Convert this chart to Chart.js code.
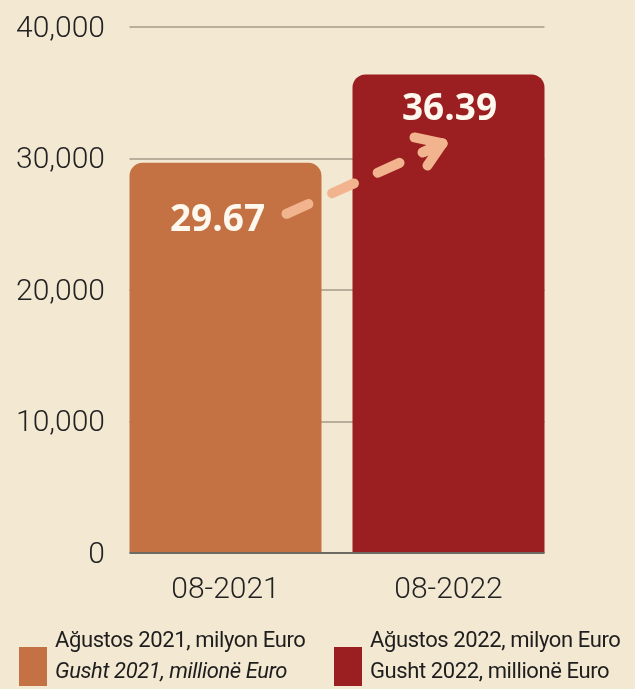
<!DOCTYPE html>
<html>
<head>
<meta charset="utf-8">
<script src="https://cdn.jsdelivr.net/npm/chart.js@4.4.1/dist/chart.umd.min.js"></script>
<style>
  html, body { margin: 0; padding: 0; background: #f3e8d2; }
  #wrap { position: relative; width: 635px; height: 689px; overflow: hidden; }
  canvas { position: absolute; left: 0; top: 0; }
  .leg { position: absolute; font-family: Roboto, sans-serif; font-size: 22px; line-height: 31px; color: #1e1e1e; white-space: nowrap; letter-spacing: -0.4px; }
  .sw { position: absolute; width: 28px; height: 39px; }
</style>
</head>
<body>
<div id="wrap">
  <canvas id="c" width="635" height="689"></canvas>
  <div class="sw" id="sw0" style="left:19px; top:647px;"></div>
  <div class="leg" id="lg0" style="left:55px; top:624px;"></div>
  <div class="sw" id="sw1" style="left:334px; top:647px;"></div>
  <div class="leg" id="lg1" style="left:370px; top:624px;"></div>
</div>
<script>
const categories = ['08-2021', '08-2022'];
const values = [29670, 36390];
const valueLabels = ['29.67', '36.39'];
const yTickValues = [0, 10000, 20000, 30000, 40000];
const barColors = ['#c47243', '#9b1f20'];
const legendLine1 = ['Ağustos 2021, milyon Euro', 'Ağustos 2022, milyon Euro'];
const legendLine2 = ['Gusht 2021, millionë Euro', 'Gusht 2022, millionë Euro'];
const legendItalic2 = [true, false];

// HTML legend
for (let i = 0; i < 2; i++) {
  document.getElementById('sw' + i).style.background = barColors[i];
  const lg = document.getElementById('lg' + i);
  const a = document.createElement('div'); a.textContent = legendLine1[i];
  const b = document.createElement('div'); b.textContent = legendLine2[i];
  if (legendItalic2[i]) b.style.fontStyle = 'italic';
  lg.appendChild(a); lg.appendChild(b);
}

const gridPlugin = {
  id: 'customGrid',
  beforeDatasetsDraw(chart) {
    const ctx = chart.ctx, y = chart.scales.y;
    const meta = chart.getDatasetMeta(0);
    const x0 = meta.data[0].x - meta.data[0].width / 2;
    const x1 = meta.data[1].x + meta.data[1].width / 2;
    ctx.save();
    ctx.strokeStyle = '#b8ae9c';
    ctx.lineWidth = 2;
    yTickValues.forEach(v => {
      if (v === 0) return;
      const py = Math.round(y.getPixelForValue(v));
      ctx.beginPath(); ctx.moveTo(x0, py); ctx.lineTo(x1, py); ctx.stroke();
    });
    ctx.restore();
  },
  afterDatasetsDraw(chart) {
    const ctx = chart.ctx, y = chart.scales.y;
    const meta = chart.getDatasetMeta(0);
    const b0 = meta.data[0], b1 = meta.data[1];
    const x0 = b0.x - b0.width / 2;
    const x1 = b1.x + b1.width / 2;
    ctx.save();
    // baseline
    ctx.strokeStyle = '#6e6a64';
    ctx.lineWidth = 2;
    const py = y.getPixelForValue(0);
    ctx.beginPath(); ctx.moveTo(x0, py); ctx.lineTo(x1, py); ctx.stroke();
    // value labels
    ctx.fillStyle = '#fff8ee';
    ctx.font = 'bold 37px "Open Sans", sans-serif';
    ctx.textAlign = 'center';
    ctx.textBaseline = 'middle';
    ctx.fillText(valueLabels[0], b0.x - 8, b0.y + 58);
    ctx.fillText(valueLabels[1], b1.x + 1, b1.y + 35);
    // dashed arrow
    const sx = b0.x + 61, sy = b0.y + 51;
    const tx = b1.x - 6, ty = b1.y + 69;
    ctx.strokeStyle = '#f2b48f';
    ctx.lineWidth = 10;
    ctx.lineCap = 'round';
    ctx.lineJoin = 'round';
    ctx.setLineDash([24, 26]);
    ctx.beginPath(); ctx.moveTo(sx, sy); ctx.lineTo(tx, ty); ctx.stroke();
    ctx.setLineDash([]);
    ctx.beginPath();
    ctx.moveTo(tx - 28, ty - 6); ctx.lineTo(tx, ty); ctx.lineTo(tx - 15, ty + 22);
    ctx.stroke();
    ctx.beginPath(); ctx.moveTo(tx - 20, ty + 9); ctx.lineTo(tx, ty); ctx.stroke();
    ctx.restore();
  }
};

new Chart(document.getElementById('c'), {
  type: 'bar',
  data: {
    labels: categories,
    datasets: [{
      data: values,
      backgroundColor: barColors,
      borderRadius: { topLeft: 13, topRight: 13, bottomLeft: 0, bottomRight: 0 },
      borderSkipped: 'bottom',
      categoryPercentage: 1,
      barPercentage: 0.861
    }]
  },
  options: {
    responsive: false,
    animation: false,
    layout: { padding: { top: 25, right: 75, left: 0, bottom: 0 } },
    plugins: { legend: { display: false }, tooltip: { enabled: false } },
    scales: {
      x: {
        grid: { display: false, drawTicks: false },
        border: { display: false },
        ticks: { color: '#222', padding: 19, font: { family: 'Roboto', size: 30, weight: '300' } },
        afterFit(s) { s.height = 136; }
      },
      y: {
        min: 0, max: 40000,
        afterBuildTicks(s) { s.ticks = yTickValues.map(v => ({ value: v })); },
        grid: { display: false, drawTicks: false },
        border: { display: false },
        ticks: {
          color: '#222', padding: 9, labelOffset: 2,
          font: { family: 'Roboto', size: 30, weight: '300' },
          callback: v => v.toLocaleString('en-US')
        },
        afterFit(s) { s.width = 114; }
      }
    }
  },
  plugins: [gridPlugin]
});
</script>
</body>
</html>
